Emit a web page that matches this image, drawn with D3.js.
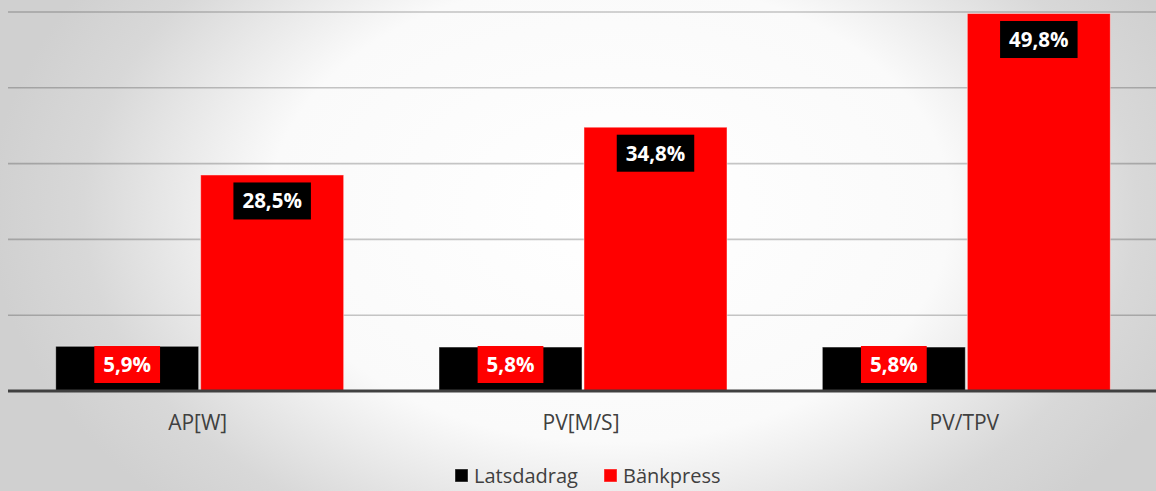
<!DOCTYPE html>
<html><head><meta charset="utf-8">
<script src="https://cdn.jsdelivr.net/npm/d3@7"></script>
<style>html,body{margin:0;padding:0;overflow:hidden;background:#fff}</style>
</head><body>
<svg id="c" width="1156" height="491"></svg>
<script>
const categories = ["AP[W]", "PV[M/S]", "PV/TPV"];
const seriesNames = ["Latsdadrag", "Bänkpress"];
const latsdadrag = [5.9, 5.8, 5.8];
const bankpress = [28.5, 34.8, 49.8];
const yTicks = [0, 10, 20, 30, 40, 50];
const colors = ["#000000", "#ff0000"];
const labelBg = ["#ff0000", "#000000"];

const svg = d3.select("#c");
const W = 1156, H = 491;
const defs = svg.append("defs");
const rg = defs.append("radialGradient").attr("id", "bg")
  .attr("gradientUnits", "userSpaceOnUse")
  .attr("cx", 610).attr("cy", 210).attr("r", 620)
  .attr("gradientTransform", "translate(610,210) scale(1,0.68) translate(-610,-210)");
rg.append("stop").attr("offset", 0).attr("stop-color", "#ffffff");
rg.append("stop").attr("offset", 0.55).attr("stop-color", "#fafafa");
rg.append("stop").attr("offset", 0.85).attr("stop-color", "#d8d8d8");
rg.append("stop").attr("offset", 1).attr("stop-color", "#d0d0d0");
svg.append("rect").attr("width", W).attr("height", H).attr("fill", "url(#bg)");

const x0 = d3.scaleBand().domain(categories).range([8, 1158]).paddingInner(0).paddingOuter(0);
const y = d3.scaleLinear().domain([0, 50]).range([391, 12]);
const bw = x0.bandwidth();
const x1 = d3.scaleBand().domain(seriesNames).range([bw / 2 - 144, bw / 2 + 144]).paddingInner(2 / 146);

// gridlines
svg.append("g").selectAll("line").data(yTicks.filter(t => t > 0)).join("line")
  .attr("x1", 8).attr("x2", W).attr("y1", d => y(d)).attr("y2", d => y(d))
  .attr("stroke", "rgba(0,0,0,0.22)").attr("stroke-width", 1.6);

const data = categories.map((c, i) => ({ cat: c, vals: [latsdadrag[i], bankpress[i]] }));

const groups = svg.append("g").selectAll("g").data(data).join("g")
  .attr("transform", d => `translate(${x0(d.cat)},0)`);

groups.selectAll("rect.bar").data(d => d.vals.map((v, j) => ({ v, j }))).join("rect")
  .attr("class", "bar")
  .attr("x", d => x1(seriesNames[d.j]))
  .attr("width", x1.bandwidth())
  .attr("y", d => y(d.v))
  .attr("height", d => y(0) - y(d.v))
  .attr("fill", d => colors[d.j])
  .attr("stroke", "rgba(255,255,255,0.45)").attr("stroke-width", 1);

// axis baseline
svg.append("line").attr("x1", 8).attr("x2", W).attr("y1", y(0)).attr("y2", y(0))
  .attr("stroke", "#404040").attr("stroke-width", 3);

// data labels
const boxH = 37;
groups.each(function (d) {
  const g = d3.select(this);
  d.vals.forEach((v, j) => {
    const cx = x1(seriesNames[j]) + x1.bandwidth() / 2;
    const top = Math.min(y(v) + 7.5, y(0) - 8 - boxH);
    const lg = g.append("g");
    const rect = lg.append("rect").attr("fill", labelBg[j]);
    const t = lg.append("text")
      .attr("x", cx).attr("y", top + boxH / 2 + 7.5)
      .attr("text-anchor", "middle")
      .attr("font-family", "'Open Sans', sans-serif")
      .attr("font-weight", "bold").attr("font-size", 20.5)
      .attr("fill", "#ffffff")
      .text(v.toFixed(1).replace(".", ",") + "%");
    const tw = t.node().getComputedTextLength();
    const w = tw + 18;
    rect.attr("x", cx - w / 2).attr("y", top).attr("width", w).attr("height", boxH);
  });
});

// category labels
svg.append("g").selectAll("text").data(categories).join("text")
  .attr("x", d => x0(d) + bw / 2 - 2)
  .attr("y", 430)
  .attr("text-anchor", "middle")
  .attr("font-family", "'Open Sans', sans-serif")
  .attr("font-size", 21)
  .attr("fill", "#404040")
  .text(d => d);

// legend
const legend = svg.append("g");
const legX = [455, 604];
seriesNames.forEach((s, j) => {
  legend.append("rect").attr("x", legX[j]).attr("y", 469).attr("width", 13).attr("height", 13)
    .attr("fill", colors[j]).attr("stroke", "rgba(255,255,255,0.4)");
  legend.append("text").attr("x", legX[j] + 19).attr("y", 483)
    .attr("font-family", "'Open Sans', sans-serif").attr("font-size", 20)
    .attr("fill", "#404040").text(s);
});
</script>
</body></html>
